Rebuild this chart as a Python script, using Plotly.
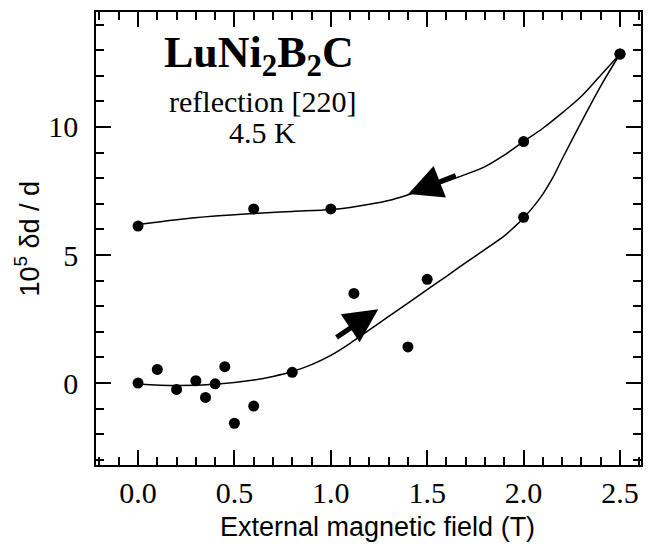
import plotly.graph_objects as go

# Measured data (increasing field branch)
field_inc = [0.0, 0.1, 0.2, 0.3, 0.35, 0.4, 0.45, 0.5, 0.6, 0.8, 1.12, 1.4, 1.5, 2.0, 2.5]
strain_inc = [0.0, 0.53, -0.25, 0.09, -0.56, -0.03, 0.64, -1.57, -0.9, 0.42, 3.5, 1.41, 4.05, 6.47, 12.85]
# Measured data (decreasing field branch)
field_dec = [2.5, 2.0, 1.0, 0.6, 0.0]
strain_dec = [12.85, 9.43, 6.80, 6.80, 6.13]

# Guide curves
curve_inc_x = [0.0, 0.2, 0.4, 0.6, 0.7, 0.8, 0.9, 1.0, 1.1, 1.2, 1.3, 1.4, 1.5, 1.6, 1.7, 1.8, 1.9,
               1.95, 2.0, 2.05, 2.1, 2.15, 2.2, 2.3, 2.4, 2.5]
curve_inc_y = [-0.04, -0.10, -0.05, 0.12, 0.26, 0.45, 0.72, 1.08, 1.55, 2.08, 2.6, 3.12, 3.65, 4.17,
               4.7, 5.22, 5.75, 6.08, 6.45, 6.88, 7.38, 8.0, 8.75, 10.2, 11.6, 12.85]
curve_dec_x = [0.0, 0.2, 0.4, 0.6, 0.8, 1.0, 1.1, 1.2, 1.3, 1.4, 1.5, 1.6, 1.7, 1.8, 1.9, 2.0,
               2.1, 2.2, 2.3, 2.4, 2.5]
curve_dec_y = [6.19, 6.38, 6.52, 6.62, 6.70, 6.78, 6.86, 6.98, 7.13, 7.35, 7.6, 7.88, 8.15, 8.45,
               8.9, 9.43, 9.95, 10.55, 11.2, 12.02, 12.85]

x_ticks = [0.0, 0.5, 1.0, 1.5, 2.0, 2.5]
x_ticklabels = ["0.0", "0.5", "1.0", "1.5", "2.0", "2.5"]
y_ticks = [0, 5, 10]
y_ticklabels = ["0", "5", "10"]

fig = go.Figure()
fig.add_trace(go.Scatter(x=curve_inc_x, y=curve_inc_y, mode="lines",
                         line=dict(color="black", width=1.5, shape="spline", smoothing=1.0),
                         showlegend=False, hoverinfo="skip"))
fig.add_trace(go.Scatter(x=curve_dec_x, y=curve_dec_y, mode="lines",
                         line=dict(color="black", width=1.5, shape="spline", smoothing=1.0),
                         showlegend=False, hoverinfo="skip"))
fig.add_trace(go.Scatter(x=field_inc, y=strain_inc, mode="markers",
                         marker=dict(color="black", size=11), showlegend=False))
fig.add_trace(go.Scatter(x=field_dec, y=strain_dec, mode="markers",
                         marker=dict(color="black", size=11), showlegend=False))

serif = "Liberation Serif, Times New Roman, serif"
sans = "Liberation Sans, Arial, sans-serif"

axis_common = dict(showline=True, linewidth=1.5, linecolor="black", mirror="ticks",
                   ticks="inside", ticklen=15, tickwidth=1.5, tickcolor="black",
                   showgrid=False, zeroline=False, automargin=False,
                   tickfont=dict(family=serif, size=30, color="black"))

# The page body adds an 8 px offset; the figure size compensates for it.
fig.update_layout(
    width=652, height=538,
    margin=dict(l=88, r=19, t=4, b=81),
    paper_bgcolor="white", plot_bgcolor="white",
    xaxis=dict(range=[-0.218, 2.609], tickvals=x_ticks, ticktext=x_ticklabels,
               minor=dict(dtick=0.1, tick0=0, ticks="inside", ticklen=8, tickwidth=1.5, tickcolor="black"),
               **axis_common),
    yaxis=dict(range=[-3.2, 14.49], tickvals=y_ticks, ticktext=y_ticklabels,
               ticklabelstandoff=10,
               minor=dict(dtick=1, tick0=0, ticks="inside", ticklen=8, tickwidth=1.5, tickcolor="black"),
               **axis_common),
)

# Axis titles
fig.add_annotation(x=(377 - 96) / 545, y=(465 - 527) / 453, xref="paper", yref="paper",
                   xanchor="center", yanchor="middle", showarrow=False,
                   text="External magnetic field (T)", font=dict(family=sans, size=27, color="black"))
fig.add_annotation(x=(27 - 96) / 545, y=0.5, xref="paper", yref="paper", textangle=-90,
                   xanchor="center", yanchor="middle", showarrow=False,
                   text="10<sup>5</sup> δd / d", font=dict(family=sans, size=27, color="black"))

fig.add_annotation(x=0.628, y=12.8, xref="x", yref="y", showarrow=False,
                   text="<b>LuNi<sub>2</sub>B<sub>2</sub>C</b>",
                   font=dict(family=serif, size=44, color="black"))
fig.add_annotation(x=0.648, y=10.98, xref="x", yref="y", showarrow=False,
                   text="reflection [220]", font=dict(family=serif, size=30, color="black"))
fig.add_annotation(x=0.648, y=9.8, xref="x", yref="y", showarrow=False,
                   text="4.5 K", font=dict(family=serif, size=30, color="black"))

# Arrows indicating sweep direction
fig.add_annotation(x=1.402, y=7.38, ax=1.656, ay=8.125, xref="x", yref="y", axref="x", ayref="y",
                   text="", showarrow=True, arrowhead=2, arrowsize=1.35, arrowwidth=5, arrowcolor="black")
fig.add_annotation(x=1.246, y=2.88, ax=1.022, ay=1.746, xref="x", yref="y", axref="x", ayref="y",
                   text="", showarrow=True, arrowhead=2, arrowsize=1.35, arrowwidth=5, arrowcolor="black")

fig.write_html("out.html")
